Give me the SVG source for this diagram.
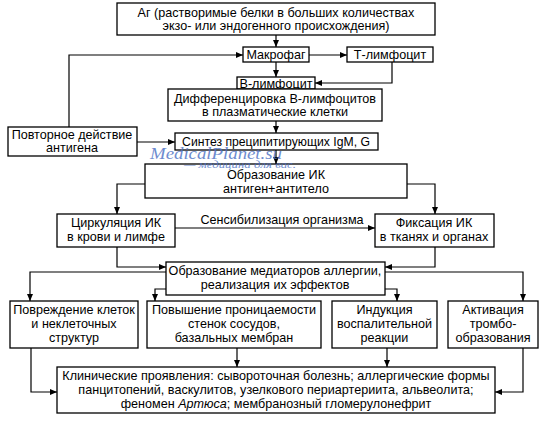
<svg xmlns="http://www.w3.org/2000/svg" width="550" height="422" viewBox="0 0 550 422">
<style>
.box{fill:#fff;stroke:#000;stroke-width:1.3}
.t{font-family:"Liberation Sans",Arial,sans-serif;font-size:12.6px;fill:#000;text-anchor:middle}
.c{fill:none;stroke:#000;stroke-width:1.2}
.wm{font-family:"Liberation Serif","Times New Roman",serif;font-style:italic;fill:#4a6fc4;opacity:0.8}
</style>
<defs>
<marker id="ar" markerUnits="userSpaceOnUse" markerWidth="8" markerHeight="8" refX="7" refY="4" orient="auto">
<path d="M0,1 L7,4 L0,7 Z" fill="#000"/>
</marker>
</defs>
<rect width="550" height="422" fill="#fff"/>
<g id="connectors">
<path class="c" marker-end="url(#ar)" d="M276,35 V47"/>
<path class="c" marker-end="url(#ar)" d="M69,127 V55 H243"/>
<path class="c" marker-end="url(#ar)" d="M309,55 H347"/>
<path class="c" marker-end="url(#ar)" d="M392,62 V83 H315"/>
<path class="c" marker-end="url(#ar)" d="M276,62 V77"/>
<path class="c" marker-end="url(#ar)" d="M276,121 V133"/>
<path class="c" marker-end="url(#ar)" d="M137,142 H175"/>
<path class="c" marker-end="url(#ar)" d="M276,150 V164"/>
<path class="c" marker-end="url(#ar)" d="M145,184 H117 V214"/>
<path class="c" marker-end="url(#ar)" d="M407,184 H435 V214"/>
<path class="c" marker-end="url(#ar)" d="M175,228 H375"/>
<path class="c" marker-end="url(#ar)" d="M117,247 V267 H166"/>
<path class="c" marker-end="url(#ar)" d="M435,247 V267 H385"/>
<path class="c" marker-end="url(#ar)" d="M166,272 H30 V301"/>
<path class="c" marker-end="url(#ar)" d="M166,289 H155 V301"/>
<path class="c" marker-end="url(#ar)" d="M385,289 H397 V301"/>
<path class="c" marker-end="url(#ar)" d="M385,272 H523 V301"/>
<path class="c" marker-end="url(#ar)" d="M31,348 V392 H57"/>
<path class="c" marker-end="url(#ar)" d="M237,348 V367"/>
<path class="c" marker-end="url(#ar)" d="M387,348 V367"/>
<path class="c" marker-end="url(#ar)" d="M523,348 V392 H495"/>
</g>
<g id="n-ag"><rect class="box" x="117" y="3" width="318" height="32"/>
<text class="t" x="276" y="17">Аг (растворимые белки в больших количествах</text>
<text class="t" x="276" y="30">экзо- или эндогенного происхождения)</text></g>
<g id="n-makrofag"><rect class="box" x="243" y="47" width="66" height="15"/>
<text class="t" x="276" y="59">Макрофаг</text></g>
<g id="n-tlymph"><rect class="box" x="347" y="47" width="86" height="15"/>
<text class="t" x="390" y="59">Т-лимфоцит</text></g>
<g id="n-blymph"><rect class="box" x="237" y="77" width="78" height="12"/>
<text class="t" x="276" y="87.5">В-лимфоцит</text></g>
<g id="n-diff"><rect class="box" x="168" y="89" width="214" height="32"/>
<text class="t" x="275" y="103">Дифференцировка В-лимфоцитов</text>
<text class="t" x="275" y="116">в плазматические клетки</text></g>
<g id="n-repeat"><rect class="box" x="8" y="127" width="129" height="29"/>
<text class="t" x="72" y="139">Повторное действие</text>
<text class="t" x="72" y="152">антигена</text></g>
<g id="n-synth"><rect class="box" x="175" y="133" width="203" height="17"/>
<text class="t" x="276" y="146" style="font-size:12.2px">Синтез преципитирующих IgM, G</text></g>
<g id="n-ik"><rect class="box" x="145" y="164" width="262" height="34"/>
<text class="t" x="276" y="179">Образование  ИК</text>
<text class="t" x="276" y="193">антиген+антитело</text></g>
<g id="n-circ"><rect class="box" x="57" y="214" width="118" height="33"/>
<text class="t" x="116" y="227">Циркуляция ИК</text>
<text class="t" x="116" y="241">в крови и лимфе</text></g>
<text id="l-sens" class="t" x="282" y="224">Сенсибилизация организма</text>
<g id="n-fix"><rect class="box" x="375" y="214" width="119" height="33"/>
<text class="t" x="434" y="227">Фиксация ИК</text>
<text class="t" x="434" y="241">в тканях и органах</text></g>
<g id="n-med"><rect class="box" x="166" y="262" width="219" height="33"/>
<text class="t" x="275" y="275">Образование медиаторов аллергии,</text>
<text class="t" x="275" y="289">реализация их эффектов</text></g>
<g id="n-dmg"><rect class="box" x="10" y="301" width="128" height="47"/>
<text class="t" x="74" y="314">Повреждение клеток</text>
<text class="t" x="74" y="328">и неклеточных</text>
<text class="t" x="74" y="342">структур</text></g>
<g id="n-perm"><rect class="box" x="147" y="301" width="174" height="47"/>
<text class="t" x="234" y="314">Повышение проницаемости</text>
<text class="t" x="234" y="328">стенок сосудов,</text>
<text class="t" x="234" y="342">базальных мембран</text></g>
<g id="n-ind"><rect class="box" x="332" y="301" width="105" height="47"/>
<text class="t" x="384.5" y="314">Индукция</text>
<text class="t" x="384.5" y="328">воспалительной</text>
<text class="t" x="384.5" y="342">реакции</text></g>
<g id="n-act"><rect class="box" x="448" y="301" width="90" height="47"/>
<text class="t" x="493" y="314">Активация</text>
<text class="t" x="493" y="328">тромбо-</text>
<text class="t" x="493" y="342">образования</text></g>
<g id="n-clin"><rect class="box" x="57" y="367" width="438" height="46"/>
<text class="t" x="276" y="380">Клинические проявления: сывороточная болезнь; аллергические формы</text>
<text class="t" x="276" y="394">панцитопений, васкулитов, узелкового периартериита, альвеолита;</text>
<text class="t" x="276" y="408">феномен <tspan font-style="italic">Артюса</tspan>; мембранозный гломерулонефрит</text></g>
<g id="watermark">
<text class="wm" x="150" y="159" font-size="16" textLength="132" lengthAdjust="spacingAndGlyphs">MedicalPlanet.su</text>
<text class="wm" x="184" y="168" font-size="10" textLength="112" lengthAdjust="spacingAndGlyphs">— медицина для вас.</text>
</g>
</svg>
